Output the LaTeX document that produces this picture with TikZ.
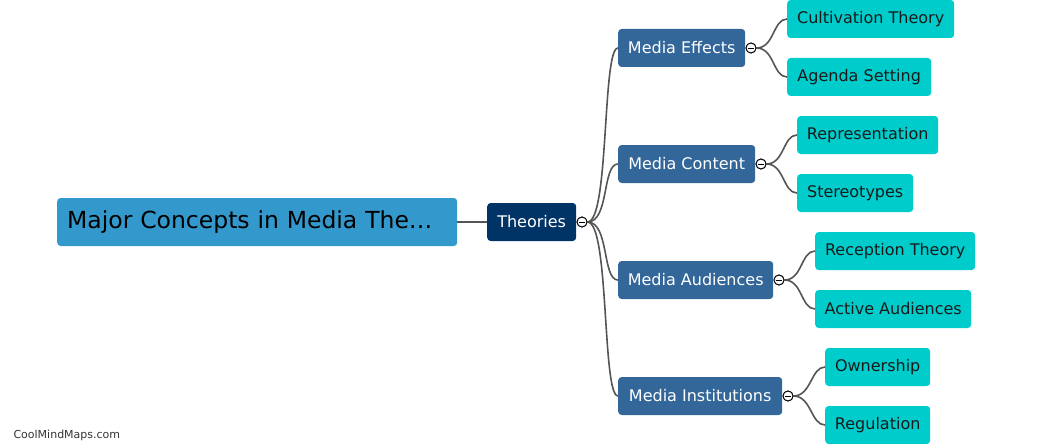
\documentclass[tikz,border=0pt]{standalone}
\usepackage{fontspec}
\setmainfont{DejaVu Sans}
\definecolor{rootc}{HTML}{3399CC}
\definecolor{themec}{HTML}{003366}
\definecolor{midc}{HTML}{336699}
\definecolor{leafc}{HTML}{00CCCC}
\definecolor{linec}{HTML}{555555}
\definecolor{leaftxt}{HTML}{1A1A1A}
\begin{document}
\begin{tikzpicture}[x=1pt,y=-1pt,
  box/.style={anchor=west, rounded corners=3.5pt, minimum height=38pt, inner xsep=0pt, inner ysep=0pt},
  rootbox/.style={box, fill=rootc, minimum height=48pt, text=black, font=\fontsize{23.5}{27}\selectfont},
  themebox/.style={box, fill=themec, text=white, font=\fontsize{16}{19}\selectfont},
  midbox/.style={box, fill=midc, text=white, font=\fontsize{16}{19}\selectfont},
  leafbox/.style={box, fill=leafc, text=leaftxt, font=\fontsize{16}{19}\selectfont},
  conn/.style={draw=linec, line width=1.6pt},
  tog/.style={circle, draw=black, fill=white, line width=0.9pt, minimum size=10pt, inner sep=0pt,
    path picture={\draw[line width=0.9pt] ([xshift=-3pt]path picture bounding box.center) -- ([xshift=3pt]path picture bounding box.center);}}
]
\useasboundingbox (0,0) rectangle (1045,444);

% root and theories
\node[rootbox, text width=380pt, align=left, inner xsep=10pt] (root) at (57,222) {Major Concepts in Media The…};
\node[themebox, minimum width=89pt] (th) at (487,222) {Theories};
\draw[conn] (root.east) -- (th.west);
\node[tog] (thc) at (582,222) {};

% middle nodes
\node[midbox, minimum width=127pt] (me) at (618,48) {Media Effects};
\node[midbox, minimum width=137pt] (mc) at (618,164) {Media Content};
\node[midbox, minimum width=155pt] (ma) at (618,280) {Media Audiences};
\node[midbox, minimum width=164pt] (mi) at (618,396) {Media Institutions};

\foreach \n in {me,mc,ma,mi}{
  \draw[conn] (thc.east) .. controls ([xshift=22pt]thc.east |- thc.east) and ([xshift=-16pt]\n.west) .. (\n.west);
}

\node[tog] (mec) at (751,48) {};
\node[tog] (mcc) at (761,164) {};
\node[tog] (mac) at (779,280) {};
\node[tog] (mic) at (788,396) {};

% leaves
\node[leafbox, minimum width=167pt] (l1) at (787,19) {Cultivation Theory};
\node[leafbox, minimum width=144pt] (l2) at (787,77) {Agenda Setting};
\node[leafbox, minimum width=141pt] (l3) at (797,135) {Representation};
\node[leafbox, minimum width=116pt] (l4) at (797,193) {Stereotypes};
\node[leafbox, minimum width=160pt] (l5) at (815,251) {Reception Theory};
\node[leafbox, minimum width=156pt] (l6) at (815,309) {Active Audiences};
\node[leafbox, minimum width=105pt] (l7) at (825,367) {Ownership};
\node[leafbox, minimum width=105pt] (l8) at (825,425) {Regulation};

\foreach \c/\l in {mec/l1,mec/l2,mcc/l3,mcc/l4,mac/l5,mac/l6,mic/l7,mic/l8}{
  \draw[conn] (\c.east) .. controls ([xshift=18pt]\c.east) and ([xshift=-14pt]\l.west) .. (\l.west);
}
% redraw toggles on top
\foreach \c/\x/\y in {thc/582/222,mec/751/48,mcc/761/164,mac/779/280,mic/788/396}{
  \node[tog] at (\x,\y) {};
}

\node[anchor=west, text=black!80, font=\fontsize{11}{13}\selectfont] (wm) at (10,435) {CoolMindMaps.com};
\end{tikzpicture}
\end{document}
